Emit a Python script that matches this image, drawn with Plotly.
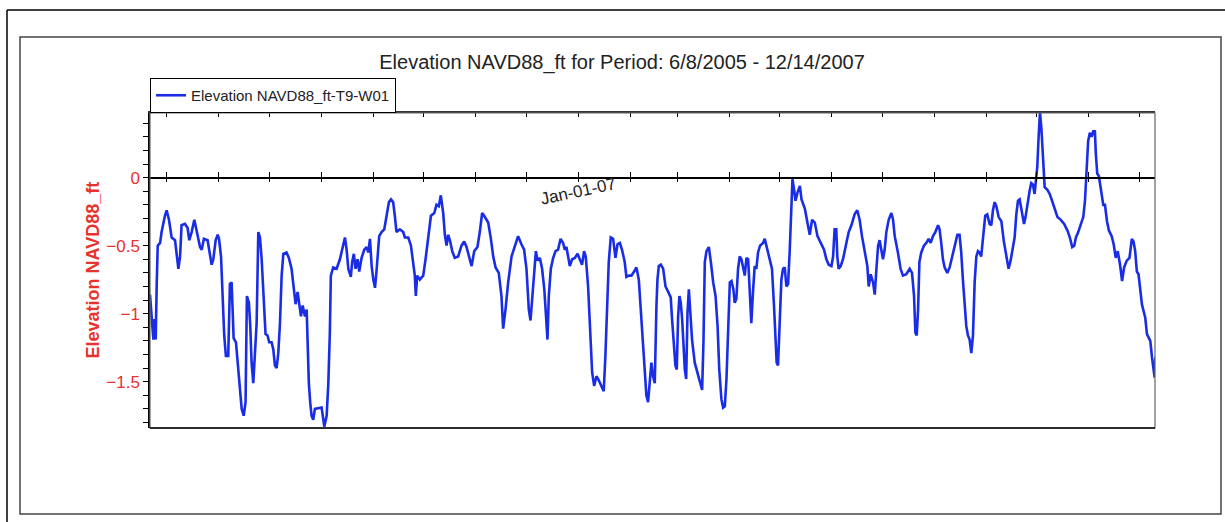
import pandas as pd
import plotly.graph_objects as go

# ---------------- data ----------------
start_date = "2006-04-21"

day_offset = [
    0, 1.0, 2.0, 2.6, 3.4, 4.0, 4.6, 6.0, 6.9, 8.9,
    9.9, 11.3, 12.9, 14.9, 15.9, 16.9, 17.9, 18.8, 20.8, 22.4,
    23.4, 24.8, 26.4, 27.8, 29.8, 30.8, 32.1, 34.3, 35.7, 36.7,
    37.7, 39.1, 40.3, 41.1, 42.3, 43.3, 44.2, 45.2, 46.6, 47.6,
    48.6, 49.2, 49.8, 51.2, 52.6, 54.6, 55.8, 56.9, 57.7, 58.9,
    59.7, 60.5, 61.5, 62.5, 63.5, 64.5, 65.5, 66.5, 67.5, 68.8,
    70.0, 71.0, 72.4, 73.4, 74.4, 75.4, 76.4, 77.4, 78.4, 79.4,
    81.3, 82.7, 84.3, 85.9, 86.7, 87.9, 88.9, 89.9, 90.9, 92.3,
    93.3, 93.8, 94.6, 95.4, 96.2, 97.2,
    98.2, 102.2, 103.8, 105.2, 106.2, 107.1, 107.7, 109.1, 111.1, 113.1,
    115.1, 116.1, 117.1, 118.1, 119.6, 120.4, 121.4, 122.4, 123.6, 124.6,
    126.0, 127.6, 129.0, 130.0, 131.0, 132.0, 133.0, 134.0, 135.0, 136.5,
    137.9, 139.5, 140.9, 142.3, 143.5, 144.8, 145.8, 146.8, 148.8, 150.8,
    151.8, 153.8, 155.4, 156.7, 157.7, 158.3, 159.1, 160.7, 162.7, 164.1,
    165.7, 167.3, 169.3, 170.6, 172.0, 173.2, 174.6, 175.6, 176.6, 177.6,
    178.6, 180.0, 181.5, 183.5, 185.5, 187.1, 188.5, 189.9, 191.5, 193.1,
    195.0, 196.4, 197.8, 199.0,
    201.4, 203.0, 204.4, 205.8, 207.7, 209.3, 210.3, 211.7, 213.3, 215.3,
    217.3, 219.2, 221.2, 222.8, 224.2, 225.6, 226.6, 227.6, 228.8, 229.8,
    230.8, 232.2, 233.5, 234.8, 235.7, 236.7, 237.5, 238.7, 240.1, 241.5,
    243.0, 244.5, 246.0, 247.0, 248.0, 249.0, 250.0, 251.4, 253.0, 254.6,
    256.0, 257.3, 258.5, 259.5, 260.9, 262.1, 263.3, 264.5, 265.9, 266.9,
    268.5, 270.2, 271.2, 272.0, 273.2, 274.4, 275.8, 277.2, 278.4, 279.8,
    281.1, 282.7, 283.7, 285.1, 286.7, 288.3, 289.7, 291.1, 292.3, 293.7,
    294.6, 295.6, 296.6, 297.6, 298.6, 299.6, 300.6,
    301.6, 302.2, 303.0, 304.2, 305.6, 307.0, 308.6, 310.1, 310.9, 312.1,
    312.9, 313.7, 314.5, 315.3, 316.1, 316.9, 317.7, 318.5, 319.3, 320.1,
    320.9, 321.7, 322.8, 324.4, 326.0, 327.4, 328.8, 329.6, 330.4, 331.4,
    332.8, 334.0, 335.4, 336.8, 338.0, 339.0, 340.3, 341.3, 342.3, 343.3,
    344.3, 345.3, 346.3, 347.4, 348.2, 349.2, 350.2, 351.2, 352.2, 353.2,
    354.2, 355.2, 356.2, 357.1, 358.1, 359.1, 360.1, 361.1, 362.1, 363.3,
    365.1, 366.1, 367.7, 369.0, 370.4, 371.6, 372.4, 373.2, 374.0, 375.0,
    376.0, 377.0, 378.0, 379.0, 380.0, 381.0, 382.0, 382.6, 383.6, 384.4,
    385.6, 387.0, 388.0, 390.0, 391.5, 392.9, 394.3, 395.9, 397.5, 399.5,
    401.4,
    402.8, 404.2, 405.8, 406.8, 407.7, 408.7, 409.3, 410.1, 411.3, 412.7,
    414.7, 416.1, 417.7, 419.6, 421.2, 422.6, 424.0, 425.6, 427.2, 428.0,
    429.2, 430.6, 431.6, 432.6, 433.6, 434.5, 435.5, 436.5, 437.5, 438.5,
    439.9, 441.5, 442.5, 443.5, 445.4, 447.0, 448.4, 450.4, 452.4, 453.8,
    455.0, 455.8, 456.6, 457.4, 458.2, 459.3, 460.9, 462.3, 463.7, 464.9,
    466.3, 467.7, 469.3, 470.2, 471.2, 472.2, 473.2, 474.8, 476.2, 477.6,
    479.2, 480.8, 482.1, 483.1, 484.1, 485.1, 486.1, 487.1, 488.1, 489.1,
    490.1, 491.1, 492.1, 493.1, 494.0, 495.0, 496.0, 497.4, 498.6, 500.0,
    501.0, 502.0, 503.0, 504.0,
    505.4, 507.0, 508.5, 509.9, 511.3, 512.5, 513.9, 514.9, 515.9, 516.9,
    517.9, 519.3, 520.5, 521.4, 522.4, 523.8, 524.8, 525.8, 526.8, 527.8,
    528.4, 529.2, 530.0, 530.8, 531.4, 532.2, 532.8, 534.4, 535.8, 537.2,
    538.8, 540.4, 542.4, 544.4, 546.4, 547.8, 549.2, 550.4, 551.4, 552.8,
    554.4, 555.8, 556.8, 557.9, 558.7, 559.7, 560.7, 561.7, 562.7, 563.3,
    564.1, 565.1, 566.3, 567.7, 568.7, 569.9, 571.1, 572.7, 573.9, 575.1,
    576.3, 577.7, 578.9, 580.1, 581.7, 583.3, 584.7, 585.7, 586.7, 587.7,
    588.7, 589.7, 590.7, 591.7, 592.7, 593.7, 594.7, 595.7, 596.7, 597.5,
    598.3, 598.7,
]

elevation_ft = [
    -0.86, -1.02, -1.19, -1.04, -1.19, -0.78, -0.50, -0.48, -0.40, -0.28,
    -0.24, -0.31, -0.44, -0.46, -0.58, -0.67, -0.58, -0.35, -0.34, -0.37,
    -0.46, -0.40, -0.31, -0.40, -0.51, -0.53, -0.45, -0.46, -0.58, -0.64,
    -0.60, -0.46, -0.42, -0.45, -0.58, -0.97, -1.16, -1.31, -1.31, -0.78,
    -0.77, -0.97, -1.18, -1.21, -1.43, -1.70, -1.75, -1.65, -0.87, -0.92,
    -1.09, -1.36, -1.51, -1.31, -1.07, -0.40, -0.44, -0.60, -0.89, -1.15,
    -1.16, -1.21, -1.21, -1.26, -1.38, -1.40, -1.29, -1.07, -0.72, -0.56,
    -0.55, -0.59, -0.67, -0.82, -0.93, -0.84, -0.94, -1.02, -0.94, -1.02,
    -0.97, -1.26, -1.51, -1.65, -1.75, -1.78,
    -1.70, -1.69, -1.83, -1.75, -1.51, -1.14, -0.72, -0.66, -0.67, -0.60,
    -0.48, -0.44, -0.53, -0.67, -0.73, -0.62, -0.56, -0.67, -0.60, -0.69,
    -0.59, -0.53, -0.51, -0.55, -0.45, -0.65, -0.75, -0.81, -0.67, -0.43,
    -0.40, -0.38, -0.28, -0.18, -0.16, -0.18, -0.28, -0.40, -0.38, -0.40,
    -0.44, -0.44, -0.50, -0.62, -0.72, -0.87, -0.72, -0.75, -0.72, -0.60,
    -0.43, -0.28, -0.26, -0.20, -0.21, -0.13, -0.26, -0.42, -0.50, -0.42,
    -0.46, -0.54, -0.59, -0.58, -0.50, -0.47, -0.51, -0.58, -0.65, -0.54,
    -0.51, -0.40, -0.26, -0.28,
    -0.33, -0.45, -0.58, -0.66, -0.70, -0.87, -1.11, -0.97, -0.77, -0.58,
    -0.50, -0.43, -0.49, -0.53, -0.67, -0.97, -1.05, -0.87, -0.65, -0.54,
    -0.61, -0.59, -0.67, -0.82, -0.99, -1.19, -0.87, -0.67, -0.59, -0.54,
    -0.53, -0.45, -0.48, -0.53, -0.51, -0.59, -0.65, -0.60, -0.59, -0.56,
    -0.60, -0.64, -0.54, -0.58, -0.80, -1.11, -1.43, -1.53, -1.46, -1.48,
    -1.53, -1.57, -1.31, -0.97, -0.62, -0.44, -0.45, -0.59, -0.49, -0.48,
    -0.53, -0.62, -0.73, -0.72, -0.72, -0.69, -0.66, -0.75, -0.97, -1.24,
    -1.41, -1.60, -1.65, -1.53, -1.36, -1.46, -1.51,
    -0.94, -0.75, -0.65, -0.64, -0.67, -0.80, -0.84, -0.88, -1.04, -1.26,
    -1.38, -1.41, -1.02, -0.87, -0.92, -1.04, -1.21, -1.41, -1.48, -0.99,
    -0.82, -1.02, -1.19, -1.36, -1.43, -1.51, -1.56, -1.21, -0.62, -0.54,
    -0.51, -0.62, -0.77, -0.87, -1.09, -1.41, -1.63, -1.69, -1.68, -1.48,
    -1.07, -0.77, -0.76, -0.82, -0.92, -0.89, -0.67, -0.58, -0.60, -0.67,
    -0.72, -0.59, -0.60, -0.82, -1.07, -0.84, -0.65, -0.67, -0.55, -0.50,
    -0.48, -0.45, -0.53, -0.60, -0.67, -0.94, -1.19, -1.36, -1.38, -0.99,
    -0.75, -0.67, -0.66, -0.80, -0.78, -0.53, -0.18, -0.01, -0.09, -0.17,
    -0.11, -0.06, -0.16, -0.23, -0.33, -0.42, -0.31, -0.33, -0.43, -0.48,
    -0.53,
    -0.60, -0.64, -0.65, -0.58, -0.38, -0.38, -0.58, -0.67, -0.65, -0.60,
    -0.48, -0.40, -0.35, -0.27, -0.24, -0.31, -0.43, -0.53, -0.65, -0.80,
    -0.71, -0.77, -0.86, -0.67, -0.50, -0.46, -0.53, -0.60, -0.53, -0.40,
    -0.31, -0.26, -0.31, -0.43, -0.55, -0.67, -0.72, -0.71, -0.67, -0.70,
    -0.87, -1.14, -1.16, -0.97, -0.62, -0.55, -0.50, -0.48, -0.45, -0.48,
    -0.43, -0.40, -0.35, -0.38, -0.48, -0.60, -0.66, -0.70, -0.66, -0.58,
    -0.50, -0.42, -0.42, -0.55, -0.75, -0.94, -1.09, -1.16, -1.19, -1.29,
    -1.16, -0.77, -0.58, -0.54, -0.55, -0.58, -0.43, -0.28, -0.27, -0.34,
    -0.35, -0.24, -0.18, -0.21,
    -0.29, -0.32, -0.47, -0.56, -0.67, -0.61, -0.51, -0.44, -0.27, -0.17,
    -0.16, -0.27, -0.34, -0.29, -0.20, -0.10, -0.04, -0.05, -0.12, 0.00,
    0.08, 0.30, 0.48, 0.37, 0.22, -0.02, -0.07, -0.09, -0.12, -0.17,
    -0.24, -0.29, -0.31, -0.34, -0.39, -0.44, -0.51, -0.50, -0.44, -0.40,
    -0.34, -0.29, -0.17, 0.05, 0.27, 0.33, 0.30, 0.34, 0.34, 0.17,
    0.03, 0.01, -0.10, -0.20, -0.20, -0.32, -0.39, -0.43, -0.49, -0.59,
    -0.54, -0.64, -0.76, -0.66, -0.61, -0.59, -0.45, -0.47, -0.54, -0.69,
    -0.71, -0.83, -0.93, -0.98, -1.03, -1.15, -1.18, -1.20, -1.32, -1.42,
    -1.47, -1.32,
]
assert len(day_offset) == len(elevation_ft), (len(day_offset), len(elevation_ft))

series_name = "Elevation NAVD88_ft-T9-W01"
title_text = "Elevation NAVD88_ft for Period: 6/8/2005 - 12/14/2007"
y_title = "Elevation NAVD88_ft"
y_range = [-1.84, 0.475]
x_span_days = 598.5
tick_months = list(pd.date_range("2006-05-01", "2007-12-01", freq="MS"))
labelled_tick = pd.Timestamp("2007-01-01")
labelled_tick_text = "Jan-01-07"

# ---------------- figure ----------------
t0 = pd.Timestamp(start_date)
dates = t0 + pd.to_timedelta(day_offset, unit="D")
x_range = [t0, t0 + pd.Timedelta(days=x_span_days)]

W, H = 1225, 522
ML, MR, MT, MB = 150, 70, 113, 94
PW, PH = W - ML - MR, H - MT - MB


def pxx(px):
    return (px - ML) / PW


def pxy(py):
    return (H - MB - py) / PH


zero_pos = (0 - y_range[0]) / (y_range[1] - y_range[0])

FONT = "Arial, Liberation Sans, sans-serif"
RED = "#e8322d"
BLUE = "#1a2de6"

fig = go.Figure()
fig.add_trace(go.Scatter(
    x=dates, y=elevation_ft, mode="lines", name=series_name,
    line=dict(color=BLUE, width=2.6),
    showlegend=True,
))
# invisible helper traces so the extra tick axes (top border, y=0 cross ticks) render
for ax in ("x2", "x3"):
    fig.add_trace(go.Scatter(
        x=dates, y=elevation_ft, xaxis=ax, yaxis="y", mode="lines",
        line=dict(width=0, color="rgba(0,0,0,0)"), opacity=0,
        showlegend=False, hoverinfo="skip",
    ))

common_x = dict(type="date", range=x_range, tickvals=tick_months,
                showticklabels=False, showgrid=False, zeroline=False)

fig.update_layout(
    width=W, height=H,
    margin=dict(l=ML, r=MR, t=MT, b=MB, autoexpand=False),
    paper_bgcolor="white", plot_bgcolor="white",
    font=dict(family=FONT, color="#222222"),
    showlegend=True,
    hovermode=False,
    title=dict(text=title_text, x=622 / W, xref="container", xanchor="center",
               y=1 - 62 / H, yref="container", yanchor="middle",
               font=dict(size=20, color="#222222", family=FONT)),
    legend=dict(x=0, y=pxy(78), xanchor="left", yanchor="top",
                bordercolor="black", borderwidth=1, bgcolor="white",
                font=dict(size=15, color="#222222", family=FONT),
                itemwidth=30, tracegroupgap=0),
    xaxis=dict(**common_x, anchor="free", position=zero_pos,
               ticks="inside", ticklen=5, tickcolor="black", tickwidth=1.2,
               showline=True, linecolor="black", linewidth=1.5),
    xaxis2=dict(**common_x, overlaying="x", anchor="y", side="top",
                ticks="inside", ticklen=4, tickcolor="black", tickwidth=1.2,
                showline=True, linecolor="#333333", linewidth=1.5),
    xaxis3=dict(**common_x, overlaying="x", anchor="free", position=zero_pos,
                side="bottom", ticks="outside", ticklen=3, tickcolor="black",
                tickwidth=1.2, showline=False),
    yaxis=dict(range=y_range, tick0=0, dtick=0.5, ticks="outside", ticklen=5,
               tickcolor="black", tickwidth=1.2,
               tickfont=dict(size=17, color=RED, family=FONT),
               minor=dict(dtick=0.1, ticks="outside", ticklen=5,
                          tickcolor="black", tickwidth=1.2, showgrid=False),
               showgrid=False, zeroline=False, showline=True,
               linecolor="black", linewidth=1.5),
)

fig.add_annotation(text=labelled_tick_text, x=labelled_tick, y=0,
                   xref="x", yref="y", showarrow=False, textangle=-12,
                   yshift=-14, xanchor="center", yanchor="middle",
                   font=dict(size=17, color="#222222", family=FONT))
fig.add_annotation(text="<b>" + y_title + "</b>", x=pxx(92), y=0.5,
                   xref="paper", yref="paper", showarrow=False,
                   textangle=-90, xanchor="center", yanchor="middle",
                   font=dict(size=18, color=RED, family=FONT))

shapes = [
    dict(type="rect", xref="paper", yref="paper", x0=0, y0=0, x1=1, y1=1,
         line=dict(color="#666666", width=1.2)),
    dict(type="line", xref="paper", yref="paper", x0=0, y0=0, x1=1, y1=0,
         line=dict(color="black", width=1.5)),
    dict(type="rect", xref="paper", yref="paper", x0=pxx(20), y0=pxy(514),
         x1=pxx(1221), y1=pxy(37), line=dict(color="#444444", width=1.5)),
    dict(type="line", xref="paper", yref="paper", x0=pxx(7), y0=pxy(10),
         x1=pxx(1226), y1=pxy(10), line=dict(color="black", width=1.5)),
    dict(type="line", xref="paper", yref="paper", x0=pxx(7), y0=pxy(10),
         x1=pxx(7), y1=pxy(523), line=dict(color="black", width=1.5)),
]
fig.update_layout(shapes=shapes)

fig.write_html(
    "out.html",
    config={"displayModeBar": False, "staticPlot": False},
    post_script="document.body.style.margin='0';document.body.style.overflow='hidden';",
)
